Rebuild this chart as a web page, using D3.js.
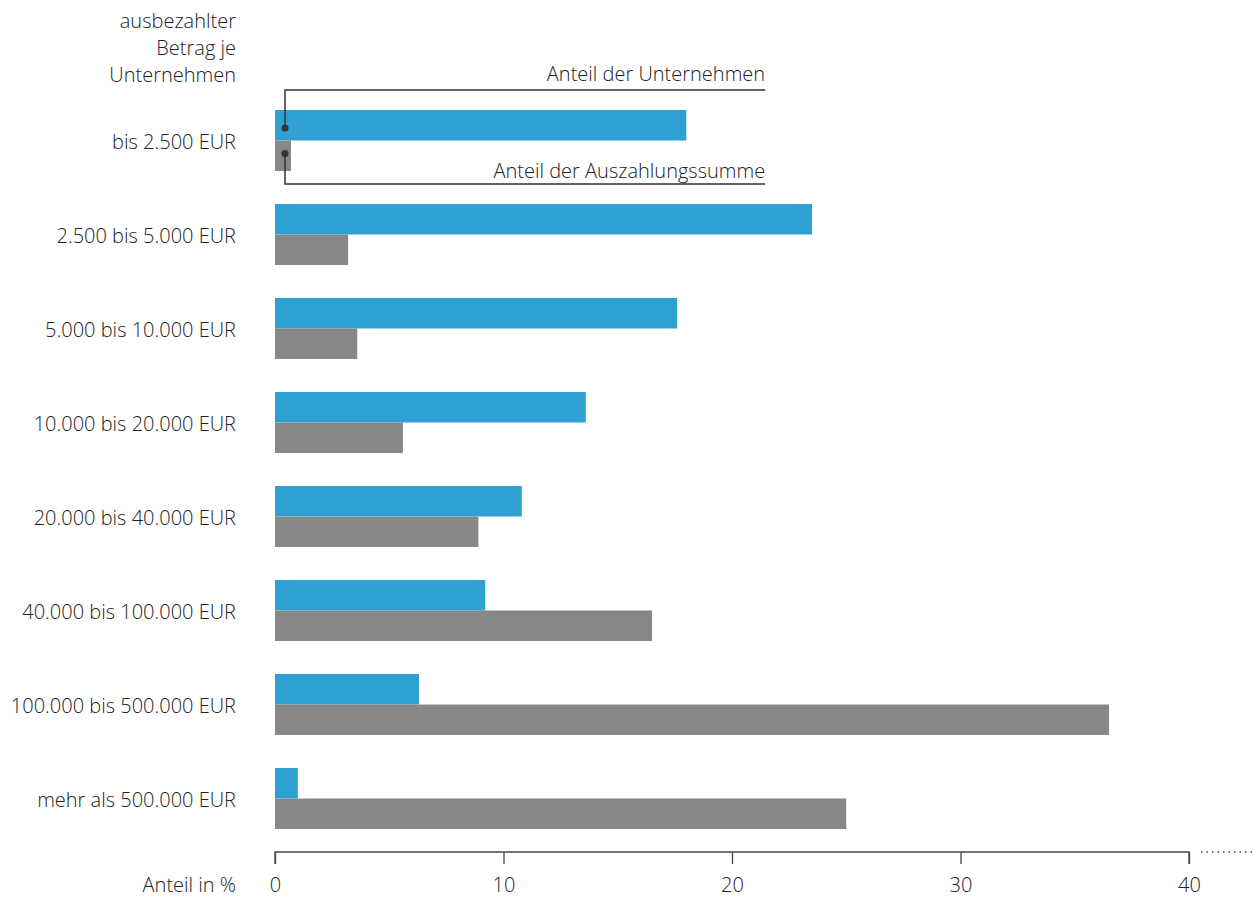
<!DOCTYPE html>
<html>
<head>
<meta charset="utf-8">
<script src="https://cdn.jsdelivr.net/npm/d3@7"></script>
<style>
  html, body { margin: 0; padding: 0; background: #fff; }
  svg text { font-family: "Open Sans", "Noto Sans", sans-serif; font-weight: 300; fill: #222; }
</style>
</head>
<body>
<svg id="chart" width="1259" height="898"></svg>
<script>
// Payout size classes
const categories = [
  "bis 2.500 EUR",
  "2.500 bis 5.000 EUR",
  "5.000 bis 10.000 EUR",
  "10.000 bis 20.000 EUR",
  "20.000 bis 40.000 EUR",
  "40.000 bis 100.000 EUR",
  "100.000 bis 500.000 EUR",
  "mehr als 500.000 EUR"
];
// Share of companies (%)
const shareCompanies = [18.0, 23.5, 17.6, 13.6, 10.8, 9.2, 6.3, 1.0];
// Share of total payout (%)
const sharePayout = [0.7, 3.2, 3.6, 5.6, 8.9, 16.5, 36.5, 25.0];
const tickValues = [0, 10, 20, 30, 40];
const headerLines = ["ausbezahlter", "Betrag je", "Unternehmen"];
const seriesNames = ["Anteil der Unternehmen", "Anteil der Auszahlungssumme"];
const axisTitle = "Anteil in %";

const FS = 20;
const svg = d3.select("#chart");
const left = 275, right = 1189;
const x = d3.scaleLinear().domain([0, 40]).range([left, right]);
const y = d3.scaleBand().domain(categories).range([110, 862]).paddingInner(0).paddingOuter(0);
const barH = 30.5;
const blue = "#2ea1d2", grey = "#878787";

const g = svg.append("g");
const rows = g.selectAll("g.row").data(categories).join("g").attr("class", "row")
  .attr("transform", d => `translate(0,${y(d)})`);

rows.append("rect")
  .attr("x", x(0)).attr("y", 0)
  .attr("width", (d, i) => x(shareCompanies[i]) - x(0))
  .attr("height", barH).attr("fill", blue);
rows.append("rect")
  .attr("x", x(0)).attr("y", barH)
  .attr("width", (d, i) => x(sharePayout[i]) - x(0))
  .attr("height", barH).attr("fill", grey);
rows.append("text")
  .attr("x", 236).attr("y", barH + 8)
  .attr("text-anchor", "end").attr("font-size", FS)
  .text(d => d);

// header above category labels
svg.append("text").attr("text-anchor", "end").attr("font-size", FS)
  .selectAll("tspan").data(headerLines).join("tspan")
  .attr("x", 236).attr("y", (d, i) => 28 + i * 27).text(d => d);

// x axis
const axisY = 852;
const axis = d3.axisBottom(x).tickValues(tickValues).tickSize(12).tickPadding(14).tickFormat(d3.format("d"));
const ax = svg.append("g").attr("transform", `translate(0,${axisY})`).call(axis);
ax.select(".domain").attr("d", `M${left},12V0H${right}V12`).attr("stroke", "#444").attr("stroke-width", 1.3);
ax.selectAll(".tick line").attr("stroke", "#444").attr("stroke-width", 1.3);
ax.selectAll(".tick text").attr("font-size", FS).attr("font-family", null).attr("fill", "#222");
// dotted continuation beyond the last tick
svg.append("line").attr("x1", right + 12).attr("x2", 1256).attr("y1", axisY).attr("y2", axisY)
  .attr("stroke", "#444").attr("stroke-width", 1.5).attr("stroke-dasharray", "1.5,4");
svg.append("text").attr("x", 236).attr("y", axisY + 40).attr("text-anchor", "end").attr("font-size", FS).text(axisTitle);

// callouts for the two series at the first row
const first = categories[0];
const cx = x(0) + 10;
const labelEnd = x(21.45);
const topY = y(first) - 20, botY = y(first) + 2 * barH + 13;
const ann = svg.append("g").attr("stroke", "#333").attr("stroke-width", 1.5).attr("fill", "none");
ann.append("path").attr("d", `M${cx},${y(first) + 18}V${topY}H${labelEnd}`);
ann.append("path").attr("d", `M${cx},${y(first) + barH + 13}V${botY}H${labelEnd}`);
svg.append("circle").attr("cx", cx).attr("cy", y(first) + 18).attr("r", 3.5).attr("fill", "#333");
svg.append("circle").attr("cx", cx).attr("cy", y(first) + barH + 13).attr("r", 3.5).attr("fill", "#333");
svg.append("text").attr("x", labelEnd).attr("y", topY - 9).attr("text-anchor", "end").attr("font-size", FS).text(seriesNames[0]);
svg.append("text").attr("x", labelEnd).attr("y", botY - 6).attr("text-anchor", "end").attr("font-size", FS).text(seriesNames[1]);
</script>
</body>
</html>
